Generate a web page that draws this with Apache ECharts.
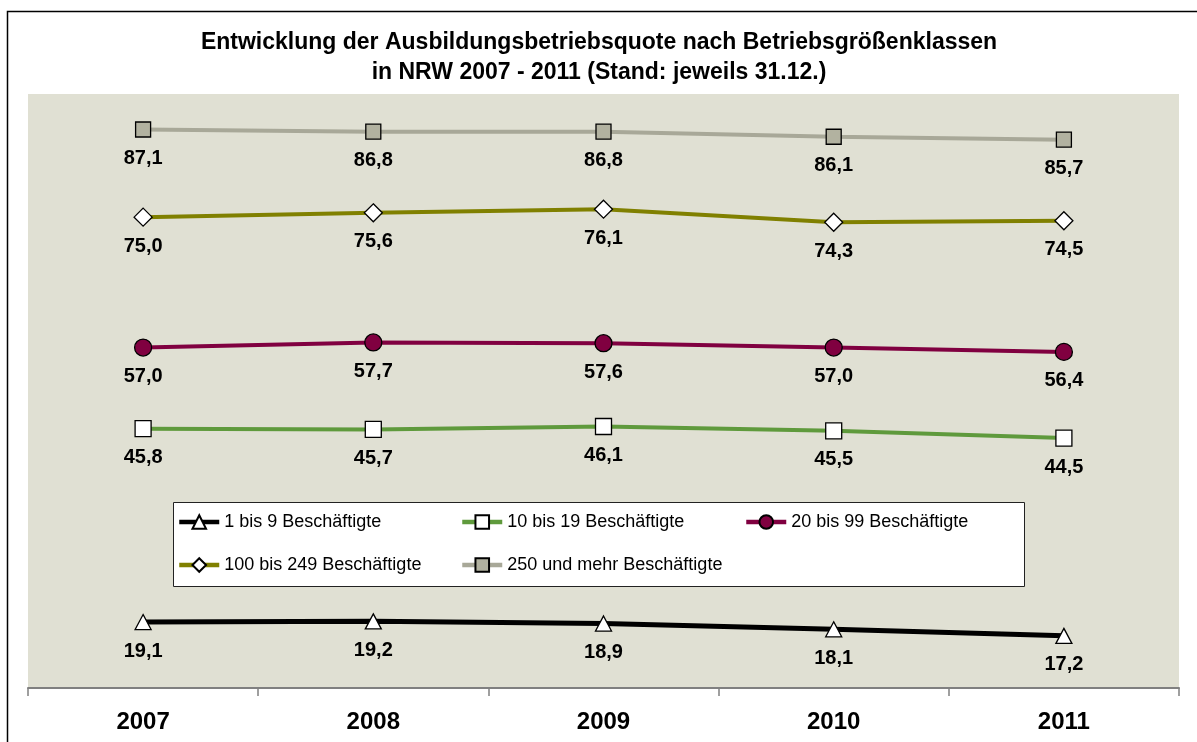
<!DOCTYPE html>
<html>
<head>
<meta charset="utf-8">
<script src="https://cdn.jsdelivr.net/npm/echarts@6/dist/echarts.min.js"></script>
<style>
html,body{margin:0;padding:0;background:#fff;}
#chart{width:1197px;height:742px;}
</style>
</head>
<body>
<div id="chart"></div>
<script>
const years = ['2007', '2008', '2009', '2010', '2011'];
const names = ['1 bis 9 Beschäftigte', '10 bis 19 Beschäftigte', '20 bis 99 Beschäftigte', '100 bis 249 Beschäftigte', '250 und mehr Beschäftigte'];
const s1to9 = [19.1, 19.2, 18.9, 18.1, 17.2];
const s10to19 = [45.8, 45.7, 46.1, 45.5, 44.5];
const s20to99 = [57.0, 57.7, 57.6, 57.0, 56.4];
const s100to249 = [75.0, 75.6, 76.1, 74.3, 74.5];
const s250plus = [87.1, 86.8, 86.8, 86.1, 85.7];
const titleText = 'Entwicklung der Ausbildungsbetriebsquote nach Betriebsgrößenklassen\nin NRW 2007 - 2011 (Stand: jeweils 31.12.)';

const FONT = '"Liberation Sans", Arial, sans-serif';

function mkSeries(name, data, color, width, symbol, size, fill) {
  return {
    name: name,
    type: 'line',
    data: data,
    symbol: symbol,
    symbolSize: size,
    lineStyle: {color: color, width: width},
    itemStyle: {color: fill, borderColor: '#000', borderWidth: 1.3},
    emphasis: {disabled: true},
    label: {
      show: true,
      position: 'inside',
      offset: [0, 29],
      fontFamily: FONT,
      fontWeight: 'bold',
      fontSize: 20,
      color: '#000',
      formatter: p => p.value.toFixed(1).replace('.', ',')
    },
    z: 3
  };
}

const seriesColors = ['#000000', '#5F9A3C', '#800040', '#808000', '#A8A898'];
const series = [
  mkSeries(names[0], s1to9, seriesColors[0], 5, 'triangle', [16, 15], '#ffffff'),
  mkSeries(names[1], s10to19, seriesColors[1], 4, 'rect', 16, '#ffffff'),
  mkSeries(names[2], s20to99, seriesColors[2], 4, 'circle', 17, '#800040'),
  mkSeries(names[3], s100to249, seriesColors[3], 4, 'diamond', [18, 18], '#ffffff'),
  mkSeries(names[4], s250plus, seriesColors[4], 4, 'rect', 15, '#B2B2A0')
];

const legendPos = [[177, 513], [460, 513], [744, 513], [177, 556], [460, 556]];
const legends = names.map((n, i) => ({
  data: [n],
  left: legendPos[i][0],
  top: legendPos[i][1],
  orient: 'horizontal',
  padding: 0,
  itemWidth: 40,
  itemHeight: 17,
  selectedMode: false,
  lineStyle: {width: 4.5},
  textStyle: {fontFamily: FONT, fontSize: 18, color: '#000'},
  z: 10
}));

const chart = echarts.init(document.getElementById('chart'), null, {renderer: 'canvas'});
chart.setOption({
  animation: false,
  backgroundColor: '#ffffff',
  title: {
    text: titleText,
    left: 594,
    textAlign: 'center',
    top: 23,
    textStyle: {fontFamily: FONT, fontWeight: 'bold', fontSize: 23, lineHeight: 30, color: '#000'}
  },
  graphic: [
    {type: 'rect', left: 5, top: 9, shape: {x: 0, y: 0, width: 1300, height: 900}, style: {fill: 'none', stroke: '#000', lineWidth: 1.5}, z: 0, silent: true},
    {type: 'rect', left: 173, top: 502, shape: {x: 0, y: 0, width: 851, height: 84}, style: {fill: '#ffffff', stroke: '#222', lineWidth: 1}, z: 5, silent: true}
  ],
  grid: {left: 28, right: 18, top: 94, bottom: 54, show: true, backgroundColor: '#E0E0D3', borderWidth: 0},
  legend: legends,
  xAxis: {
    type: 'category',
    data: years,
    boundaryGap: true,
    axisLine: {lineStyle: {color: '#808080', width: 2}},
    axisTick: {show: true, length: 8, lineStyle: {color: '#808080', width: 1.5}},
    axisLabel: {margin: 22, fontFamily: FONT, fontWeight: 'bold', fontSize: 24, color: '#000'},
    splitLine: {show: false}
  },
  yAxis: {
    type: 'value',
    min: 10,
    max: 92,
    show: false,
    splitLine: {show: false}
  },
  series: series
});
</script>
</body>
</html>
